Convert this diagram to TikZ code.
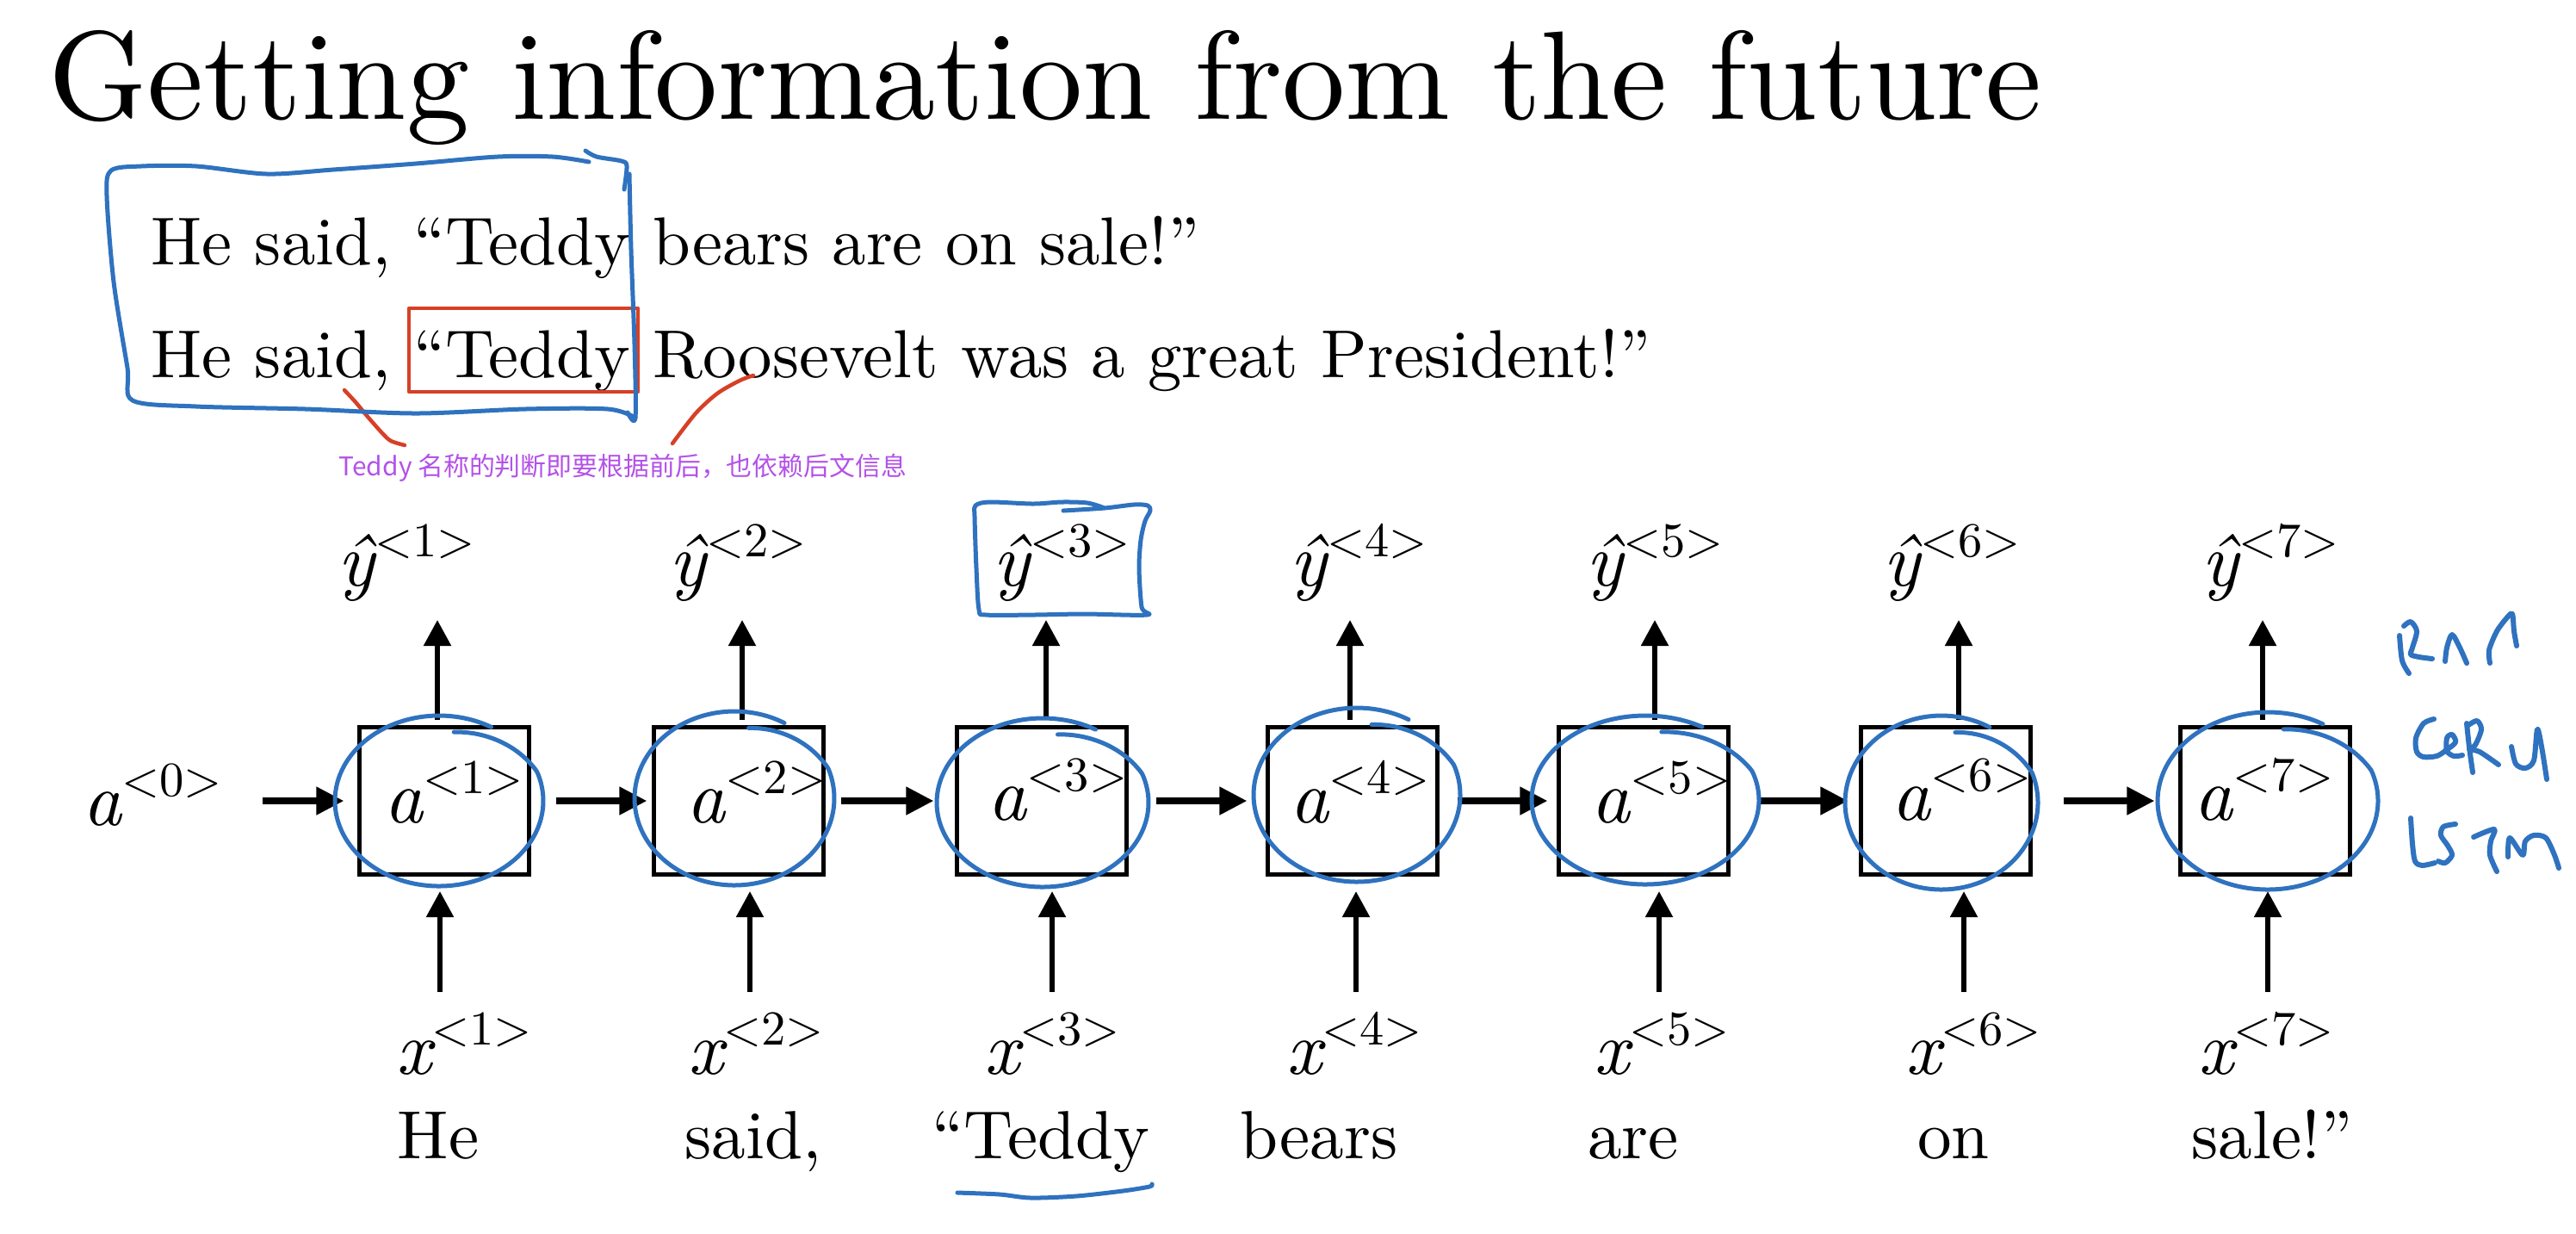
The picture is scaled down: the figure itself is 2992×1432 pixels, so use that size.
\documentclass[tikz,border=0pt]{standalone}
\usepackage{fontspec}
\setmainfont{lmroman10}[Extension=.otf, UprightFont=*-regular, ItalicFont=*-italic, BoldFont=*-bold]
\usetikzlibrary{arrows.meta}
\newfontfamily\cjkfont{Noto Sans CJK SC}
\definecolor{penblue}{RGB}{47,114,191}
\definecolor{penred}{RGB}{214,64,38}
\definecolor{notepurple}{RGB}{180,82,232}
\newcommand{\lbl}[2]{{\fontsize{25}{30}\selectfont\itshape #1}\raisebox{9.5pt}{\fontsize{16.1}{18}\selectfont <#2>}}
\tikzset{
  boxn/.style={draw, line width=0.05cm, minimum width=1.97cm, minimum height=1.70cm, inner sep=0pt, outer sep=0pt},
  lab/.style={inner sep=0pt, anchor=base west, font=\fontsize{23}{28}\selectfont},
  word/.style={inner sep=0pt, anchor=base, font=\fontsize{22.5}{27}\selectfont},
  sent/.style={inner sep=0pt, anchor=base west, font=\fontsize{22.4}{27}\selectfont},
  harr/.style={line width=0.075cm, -{Triangle[length=0.32cm,width=0.31cm]}},
  varr/.style={line width=0.055cm, -{Triangle[length=0.30cm,width=0.31cm]}},
  pen/.style={draw=penblue, line width=0.05cm, line cap=round, line join=round},
  hand/.style={draw=penblue, line width=0.06cm, line cap=round, line join=round},
  redpen/.style={draw=penred, line width=0.045cm, line cap=round, line join=round},
}
\newcommand{\hloop}[4]{\draw[pen] plot[smooth, samples=90, domain=-300:80, variable=\t]
  ({#1+#3*(1-0.18*max(0,(\t-20)/60))*cos(\t)},{#2-#4*(1-0.18*max(0,(\t-20)/60))*sin(\t)});}
\begin{document}
\begin{tikzpicture}[x=0.01cm, y=-0.01cm]
\useasboundingbox (0,0) rectangle (2992,1432);
\fill[white] (0,0) rectangle (2992,1432);

% title and sentences
\node[inner sep=0pt, anchor=base west, font=\fontsize{41.6}{50}\selectfont] (title) at (56,138) {Getting information from the future};
\node[sent] (sentA) at (175,307) {He said, ``Teddy bears are on sale!''};
\node[sent] (sentB) at (175,438) {He said, ``Teddy Roosevelt was a great President!''};
\node[inner sep=0pt, anchor=base west, text=notepurple, font=\cjkfont\fontsize{8.5}{10}\selectfont] (note) at (393,552) {Teddy 名称的判断即要根据前后，也依赖后文信息};

% red annotations
\draw[redpen] (475,358) rectangle (741,455);
\draw[redpen] plot[smooth] coordinates {(400,453) (413,467) (428,485) (444,503) (454,512) (470,517)};
\draw[redpen] plot[smooth] coordinates {(875,436) (859,442) (833,457) (808,480) (781,515)};

% blue box around sentences
\draw[pen] plot[smooth, tension=0.5] coordinates {(684,188) (642,182) (578,182) (483,190) (387,197) (310,202) (228,193) (164,193) (129,198) (124,227) (132,327) (148,427) (154,465) (228,472) (355,475) (483,480) (610,475) (706,475) (738,485)};
\draw[pen] plot[smooth, tension=0.5] coordinates {(680,175) (693,182) (722,187) (728,193) (725,220)};
\draw[pen] plot[smooth, tension=0.5] coordinates {(731,202) (733,290) (737,400) (738,485) (729,479)};

% boxes
\node[boxn] (b1) at (516,930) {};
\node[boxn] (b2) at (858,930) {};
\node[boxn] (b3) at (1210,930) {};
\node[boxn] (b4) at (1571,930) {};
\node[boxn] (b5) at (1909,930) {};
\node[boxn] (b6) at (2260,930) {};
\node[boxn] (b7) at (2631,930) {};

% labels in boxes
\node[lab] (a0) at (96,958) {\lbl{a}{0}};
\node[lab] (a1) at (446,955) {\lbl{a}{1}};
\node[lab] (a2) at (797,955) {\lbl{a}{2}};
\node[lab] (a3) at (1147,952) {\lbl{a}{3}};
\node[lab] (a4) at (1498,955) {\lbl{a}{4}};
\node[lab] (a5) at (1848,955) {\lbl{a}{5}};
\node[lab] (a6) at (2197,952) {\lbl{a}{6}};
\node[lab] (a7) at (2548,952) {\lbl{a}{7}};

% output labels
\node[lab] (y1) at (392,680) {\lbl{ŷ}{1}};
\node[lab] (y2) at (777,680) {\lbl{ŷ}{2}};
\node[lab] (y3) at (1153,680) {\lbl{ŷ}{3}};
\node[lab] (y4) at (1498,680) {\lbl{ŷ}{4}};
\node[lab] (y5) at (1842,680) {\lbl{ŷ}{5}};
\node[lab] (y6) at (2187,680) {\lbl{ŷ}{6}};
\node[lab] (y7) at (2557,680) {\lbl{ŷ}{7}};

% input labels
\node[lab] (x1) at (460,1247) {\lbl{x}{1}};
\node[lab] (x2) at (799,1247) {\lbl{x}{2}};
\node[lab] (x3) at (1143,1247) {\lbl{x}{3}};
\node[lab] (x4) at (1494,1247) {\lbl{x}{4}};
\node[lab] (x5) at (1851,1247) {\lbl{x}{5}};
\node[lab] (x6) at (2213,1247) {\lbl{x}{6}};
\node[lab] (x7) at (2553,1247) {\lbl{x}{7}};

% words
\node[word] (w1) at (509,1345) {He};
\node[word] (w2) at (875,1345) {said,};
\node[word] (w3) at (1209,1345) {``Teddy};
\node[word] (w4) at (1532,1345) {bears};
\node[word] (w5) at (1897,1345) {are};
\node[word] (w6) at (2269,1345) {on};
\node[word] (w7) at (2639,1345) {sale!''};

% horizontal arrows
\draw[harr, shorten <=0.46cm, shorten >=0.18cm] (a0.east |- b1.west) -- (b1.west);
\draw[harr, shorten <=0.31cm, shorten >=0.08cm] (b1.east) -- (b2.west);
\draw[harr, shorten <=0.20cm, shorten >=0.27cm] (b2.east) -- (b3.west);
\draw[harr, shorten <=0.34cm, shorten >=0.24cm] (b3.east) -- (b4.west);
\draw[harr, shorten <=0.23cm, shorten >=0.13cm] (b4.east) -- (b5.west);
\draw[harr, shorten <=0.34cm, shorten >=0.15cm] (b5.east) -- (b6.west);
\draw[harr, shorten <=0.38cm, shorten >=0.30cm] (b6.east) -- (b7.west);

% up arrows
\coordinate (t1) at (508,720);
\coordinate (t2) at (862,720);
\coordinate (t3) at (1215,720);
\coordinate (t4) at (1568,720);
\coordinate (t5) at (1922,720);
\coordinate (t6) at (2275,720);
\coordinate (t7) at (2628,720);
\foreach \i in {1,...,7} {\draw[varr, shorten <=0.09cm] (b\i.north -| t\i) -- (t\i);}

% input arrows
\coordinate (s1) at (511,1152);
\coordinate (s2) at (871,1152);
\coordinate (s3) at (1222,1152);
\coordinate (s4) at (1575,1152);
\coordinate (s5) at (1927,1152);
\coordinate (s6) at (2281,1152);
\coordinate (s7) at (2634,1152);
\foreach \i in {1,...,7} {\draw[varr, shorten >=0.20cm] (s\i) -- (b\i.south -| s\i);}

% blue loops round the cells
\hloop{510}{930}{121}{99}
\hloop{853}{927}{116}{101}
\hloop{1211}{932}{123}{98}
\hloop{1576}{923}{120}{101}
\hloop{1911}{929}{132}{98}
\hloop{2255}{932}{112}{101}
\hloop{2634}{930}{128}{103}

% blue box round y3
\draw[pen] plot[smooth, tension=0.5] coordinates {(1283,590) (1263,584) (1233,583) (1200,585) (1150,583) (1133,587) (1132,600) (1134,660) (1137,708) (1145,714) (1200,714) (1260,713) (1332,714) (1326,705) (1323,660) (1325,627) (1330,605) (1336,593) (1333,587) (1317,586) (1283,590) (1235,593)};

% underline of Teddy
\draw[pen] plot[smooth, tension=0.5] coordinates {(1112,1385) (1161,1387) (1197,1391) (1250,1389) (1304,1383) (1335,1378) (1338,1375)};

% handwriting RNN / GRU / LSTM
\draw[hand] plot[smooth] coordinates {(2787,738) (2790,767) (2798,782)};
\draw[hand] plot[smooth] coordinates {(2792,727) (2800,722) (2807,733) (2802,752) (2800,760) (2810,763) (2825,765)};
\draw[hand] plot[smooth] coordinates {(2840,768) (2842,752) (2848,737) (2857,752) (2865,770)};
\draw[hand] plot[smooth] coordinates {(2892,770) (2891,755) (2900,733) (2912,717) (2918,713) (2920,733) (2923,750)};
\draw[hand] plot[smooth] coordinates {(2827,835) (2815,840) (2806,857) (2807,873) (2815,879) (2830,878) (2840,872) (2852,862) (2848,853) (2842,857) (2842,872) (2850,878) (2860,877)};
\draw[hand] plot[smooth] coordinates {(2865,840) (2868,868) (2872,897)};
\draw[hand] plot[smooth] coordinates {(2867,842) (2877,837) (2882,847) (2875,865) (2868,870) (2880,873) (2902,888)};
\draw[hand] plot[smooth] coordinates {(2917,867) (2922,887) (2933,892) (2943,883) (2947,847) (2952,867) (2958,905)};
\draw[hand] plot[smooth] coordinates {(2800,950) (2802,980) (2805,1000) (2813,1005) (2828,1002)};
\draw[hand] plot[smooth] coordinates {(2852,957) (2838,960) (2835,970) (2843,982) (2848,993) (2840,1002) (2832,1000)};
\draw[hand] plot[smooth] coordinates {(2873,972) (2897,963) (2893,977) (2892,993) (2900,1012)};
\draw[hand] plot[smooth] coordinates {(2913,995) (2915,973) (2930,993) (2933,977) (2943,970) (2957,973) (2967,993) (2972,1008)};
\end{tikzpicture}
\end{document}
